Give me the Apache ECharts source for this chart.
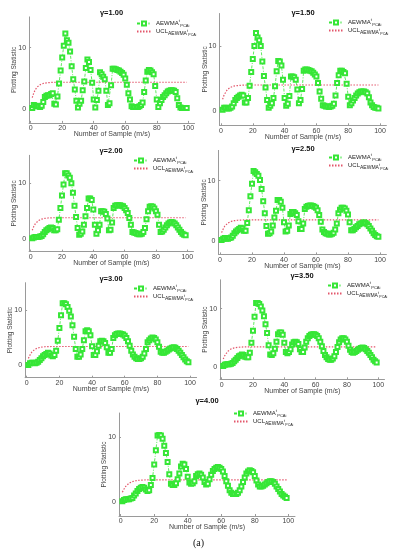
<!DOCTYPE html>
<html><head><meta charset="utf-8">
<script src="https://cdn.jsdelivr.net/npm/echarts@6/dist/echarts.min.js"></script>
<style>html,body{margin:0;padding:0;background:#fff}#c{width:399px;height:550px}</style>
</head><body><div id="c"></div>
<script>
const samples = [1,2,3,4,5,6,7,8,9,10,11,12,13,14,15,16,17,18,19,20,21,22,23,24,25,26,27,28,29,30,31,32,33,34,35,36,37,38,39,40,41,42,43,44,45,46,47,48,49,50,51,52,53,54,55,56,57,58,59,60,61,62,63,64,65,66,67,68,69,70,71,72,73,74,75,76,77,78,79,80,81,82,83,84,85,86,87,88,89,90,91,92,93,94,95,96,97,98,99];
const xTicks = [0,20,40,60,80,100];
const yTicks = [0,10];
const gammaLabels = ['γ=1.00','γ=1.50','γ=2.00','γ=2.50','γ=3.00','γ=3.50','γ=4.00'];

const aewmaG100 = [
0.2,0.7,0.6,0.5,0.5,0.4,0.6,1.2,2.0,2.2,
2.3,2.3,2.5,2.6,0.9,0.8,2.1,4.2,6.3,8.4,
10.3,12.3,11.2,10.8,9.4,7.0,4.9,3.2,1.4,0.3,
0.9,1.4,3.1,4.5,6.7,8.1,7.7,6.4,4.3,1.6,
0.3,1.5,3.0,6.0,5.7,5.3,4.9,3.0,0.7,1.0,
3.9,6.6,6.6,6.5,6.4,6.3,6.1,5.9,5.6,5.0,
4.0,2.6,1.6,0.5,0.4,0.4,0.4,0.4,0.5,0.7,
1.1,2.8,4.7,6.1,6.4,6.3,6.0,5.7,3.8,1.6,
0.4,1.0,1.5,2.0,2.3,2.6,2.9,3.0,3.1,3.1,
3.0,2.8,1.8,0.7,0.3,0.2,0.2,0.2,0.2];
const aewmaG150 = [
0.2,0.5,0.5,0.4,0.4,0.5,0.7,1.2,1.7,2.0,
2.2,2.4,2.5,2.4,1.3,1.3,2.0,3.9,6.0,8.0,
10.0,12.0,11.3,10.9,10.0,7.6,5.4,3.6,1.7,0.5,
0.8,1.2,2.0,3.8,6.1,7.7,7.6,7.0,4.8,2.0,
0.8,1.1,2.3,5.3,5.3,5.2,4.8,3.3,1.2,1.7,
3.4,6.2,6.4,6.4,6.3,6.2,6.1,5.9,5.6,5.3,
4.3,3.0,1.9,0.9,0.8,0.7,0.7,0.6,0.7,0.8,
1.1,2.4,4.3,5.5,6.2,6.2,6.0,5.8,4.2,2.2,
0.9,1.2,1.6,2.0,2.4,2.7,2.9,3.0,3.0,3.0,
2.9,2.7,2.1,1.3,0.9,0.6,0.5,0.5,0.4];
const aewmaG200 = [
0.2,0.3,0.4,0.4,0.4,0.5,0.6,0.9,1.3,1.6,
1.8,2.0,2.1,2.0,1.6,1.6,1.8,3.5,5.6,7.8,
9.8,11.8,11.8,11.4,11.0,10.0,8.3,6.0,4.0,2.0,
0.8,1.0,1.4,2.6,4.1,5.6,7.3,7.3,7.0,5.3,
2.6,1.0,1.6,2.6,5.0,5.0,4.9,4.5,3.7,1.6,
1.7,3.0,5.6,6.0,6.1,6.1,6.1,6.0,5.9,5.6,
5.2,4.7,3.8,2.6,1.3,1.2,1.1,1.0,0.9,0.9,
1.0,1.3,2.0,3.6,5.0,5.8,5.9,5.8,5.5,5.0,
4.4,2.6,1.3,1.4,1.7,2.1,2.5,2.8,3.0,3.1,
3.0,2.8,2.5,2.1,1.7,1.3,1.0,0.8,0.7];
const aewmaG250 = [
0.2,0.4,0.5,0.4,0.4,0.5,0.6,0.9,1.3,1.6,
1.8,2.0,2.2,2.1,1.7,1.7,3.0,5.1,7.4,9.5,
11.6,11.4,11.1,10.8,10.1,8.6,6.6,4.6,2.5,1.2,
1.3,1.6,2.6,3.9,5.0,6.8,6.8,6.5,5.5,3.1,
1.6,1.7,2.6,4.5,4.8,4.8,4.6,4.3,3.3,2.0,
2.0,2.9,5.3,5.7,5.8,5.9,5.9,5.8,5.7,5.5,
5.1,4.3,3.2,1.9,1.5,1.3,1.2,1.1,1.1,1.2,
1.4,1.9,2.9,4.6,5.2,5.5,5.5,5.4,5.0,4.4,
3.1,1.8,1.8,2.0,2.3,2.5,2.8,2.9,3.0,3.1,
3.0,2.8,2.5,2.1,1.7,1.3,1.0,0.8,0.7];
const aewmaG300 = [
0.1,0.4,0.5,0.5,0.4,0.5,0.7,1.0,1.3,1.7,
1.9,2.1,2.3,2.2,1.8,1.7,1.9,2.7,4.5,6.8,
9.1,11.3,11.3,11.1,10.6,9.9,8.9,7.3,5.2,3.0,
1.6,1.6,2.0,3.0,4.6,6.2,6.4,6.2,5.5,3.5,
1.9,1.9,2.6,3.6,4.4,4.5,4.4,4.1,3.3,2.3,
2.3,3.0,5.0,5.5,5.7,5.8,5.8,5.7,5.6,5.4,
5.0,4.4,3.6,2.7,2.0,1.6,1.3,1.2,1.2,1.3,
1.6,2.2,3.0,4.2,4.6,4.9,5.1,5.0,4.7,4.2,
3.4,2.5,2.3,2.3,2.5,2.7,2.9,3.1,3.2,3.3,
3.2,3.0,2.7,2.3,1.9,1.5,1.1,0.8,0.6];
const aewmaG350 = [
0.1,0.3,0.4,0.4,0.4,0.5,0.6,0.9,1.2,1.5,
1.8,1.9,2.1,2.0,1.7,1.6,1.6,2.4,4.1,6.2,
8.6,11.0,11.0,10.8,10.4,9.7,8.7,7.3,5.8,3.7,
2.1,2.0,2.3,3.1,4.3,5.6,5.9,5.9,5.5,4.1,
2.5,2.3,2.5,3.0,3.8,4.2,4.3,4.2,3.9,3.0,
2.5,2.5,3.3,4.3,4.9,5.3,5.5,5.6,5.6,5.5,
5.3,4.9,4.3,3.5,2.7,2.0,1.6,1.3,1.2,1.2,
1.4,1.8,2.5,3.4,4.2,4.7,4.9,4.9,4.7,4.3,
3.6,2.9,2.5,2.4,2.5,2.7,2.9,3.1,3.2,3.3,
3.2,3.0,2.7,2.4,2.0,1.6,1.2,0.9,0.7];
const aewmaG400 = [
0.1,0.3,0.4,0.4,0.4,0.5,0.6,1.0,1.3,1.7,
2.0,2.2,2.3,2.2,1.9,1.7,1.8,2.6,3.7,5.8,
8.0,10.3,10.4,10.3,9.8,8.7,7.6,6.2,4.3,2.8,
2.6,2.6,2.9,3.5,4.4,5.5,5.9,5.8,5.1,3.9,
3.0,2.8,2.9,3.2,4.0,4.3,4.4,4.2,3.8,3.1,
2.7,2.8,3.5,4.2,4.8,5.1,5.3,5.4,5.3,5.1,
4.7,4.0,3.2,2.5,1.8,1.4,1.2,1.2,1.2,1.4,
1.8,2.4,3.1,3.8,4.4,4.7,4.9,4.8,4.6,4.0,
3.3,2.7,2.4,2.4,2.5,2.7,2.9,3.1,3.2,3.2,
3.1,2.8,2.4,2.0,1.6,1.2,1.0,0.8,0.6];

const uclG100 = [
1.9,2.7,3.2,3.6,3.85,4.0,4.1,4.2,4.25,4.3,
4.33,4.35,4.37,4.38,4.39,4.4,4.4,4.4,4.4,4.4,
4.4,4.4,4.4,4.4,4.4,4.4,4.4,4.4,4.4,4.4,
4.4,4.4,4.4,4.4,4.4,4.4,4.4,4.4,4.4,4.4,
4.4,4.4,4.4,4.4,4.4,4.4,4.4,4.4,4.4,4.4,
4.4,4.4,4.4,4.4,4.4,4.4,4.4,4.4,4.4,4.4,
4.4,4.4,4.4,4.4,4.4,4.4,4.4,4.4,4.4,4.4,
4.4,4.4,4.4,4.4,4.4,4.4,4.4,4.4,4.4,4.4,
4.4,4.4,4.4,4.4,4.4,4.4,4.4,4.4,4.4,4.4,
4.4,4.4,4.4,4.4,4.4,4.4,4.4,4.4,4.4];
const uclG150 = [
1.8,2.5,2.9,3.3,3.5,3.65,3.75,3.82,3.87,3.9,
3.93,3.95,3.97,3.98,3.99,4.0,4.0,4.0,4.0,4.0,
4.0,4.0,4.0,4.0,4.0,4.0,4.0,4.0,4.0,4.0,
4.0,4.0,4.0,4.0,4.0,4.0,4.0,4.0,4.0,4.0,
4.0,4.0,4.0,4.0,4.0,4.0,4.0,4.0,4.0,4.0,
4.0,4.0,4.0,4.0,4.0,4.0,4.0,4.0,4.0,4.0,
4.0,4.0,4.0,4.0,4.0,4.0,4.0,4.0,4.0,4.0,
4.0,4.0,4.0,4.0,4.0,4.0,4.0,4.0,4.0,4.0,
4.0,4.0,4.0,4.0,4.0,4.0,4.0,4.0,4.0,4.0,
4.0,4.0,4.0,4.0,4.0,4.0,4.0,4.0,4.0];
const uclG200 = [
1.6,2.3,2.8,3.15,3.35,3.5,3.6,3.68,3.73,3.77,
3.8,3.82,3.83,3.84,3.85,3.85,3.85,3.85,3.85,3.85,
3.85,3.85,3.85,3.85,3.85,3.85,3.85,3.85,3.85,3.85,
3.85,3.85,3.85,3.85,3.85,3.85,3.85,3.85,3.85,3.85,
3.85,3.85,3.85,3.85,3.85,3.85,3.85,3.85,3.85,3.85,
3.85,3.85,3.85,3.85,3.85,3.85,3.85,3.85,3.85,3.85,
3.85,3.85,3.85,3.85,3.85,3.85,3.85,3.85,3.85,3.85,
3.85,3.85,3.85,3.85,3.85,3.85,3.85,3.85,3.85,3.85,
3.85,3.85,3.85,3.85,3.85,3.85,3.85,3.85,3.85,3.85,
3.85,3.85,3.85,3.85,3.85,3.85,3.85,3.85,3.85];
const uclG250 = [
1.4,2.0,2.5,2.8,3.0,3.15,3.25,3.32,3.38,3.42,
3.45,3.47,3.48,3.49,3.5,3.5,3.5,3.5,3.5,3.5,
3.5,3.5,3.5,3.5,3.5,3.5,3.5,3.5,3.5,3.5,
3.5,3.5,3.5,3.5,3.5,3.5,3.5,3.5,3.5,3.5,
3.5,3.5,3.5,3.5,3.5,3.5,3.5,3.5,3.5,3.5,
3.5,3.5,3.5,3.5,3.5,3.5,3.5,3.5,3.5,3.5,
3.5,3.5,3.5,3.5,3.5,3.5,3.5,3.5,3.5,3.5,
3.5,3.5,3.5,3.5,3.5,3.5,3.5,3.5,3.5,3.5,
3.5,3.5,3.5,3.5,3.5,3.5,3.5,3.5,3.5,3.5,
3.5,3.5,3.5,3.5,3.5,3.5,3.5,3.5,3.5];
const uclG300 = [
1.3,1.9,2.4,2.7,2.95,3.1,3.2,3.28,3.33,3.37,
3.4,3.42,3.43,3.44,3.45,3.45,3.45,3.45,3.45,3.45,
3.45,3.45,3.45,3.45,3.45,3.45,3.45,3.45,3.45,3.45,
3.45,3.45,3.45,3.45,3.45,3.45,3.45,3.45,3.45,3.45,
3.45,3.45,3.45,3.45,3.45,3.45,3.45,3.45,3.45,3.45,
3.45,3.45,3.45,3.45,3.45,3.45,3.45,3.45,3.45,3.45,
3.45,3.45,3.45,3.45,3.45,3.45,3.45,3.45,3.45,3.45,
3.45,3.45,3.45,3.45,3.45,3.45,3.45,3.45,3.45,3.45,
3.45,3.45,3.45,3.45,3.45,3.45,3.45,3.45,3.45,3.45,
3.45,3.45,3.45,3.45,3.45,3.45,3.45,3.45,3.45];
const uclG350 = [
1.3,1.9,2.3,2.65,2.9,3.05,3.15,3.23,3.28,3.32,
3.35,3.37,3.38,3.39,3.4,3.4,3.4,3.4,3.4,3.4,
3.4,3.4,3.4,3.4,3.4,3.4,3.4,3.4,3.4,3.4,
3.4,3.4,3.4,3.4,3.4,3.4,3.4,3.4,3.4,3.4,
3.4,3.4,3.4,3.4,3.4,3.4,3.4,3.4,3.4,3.4,
3.4,3.4,3.4,3.4,3.4,3.4,3.4,3.4,3.4,3.4,
3.4,3.4,3.4,3.4,3.4,3.4,3.4,3.4,3.4,3.4,
3.4,3.4,3.4,3.4,3.4,3.4,3.4,3.4,3.4,3.4,
3.4,3.4,3.4,3.4,3.4,3.4,3.4,3.4,3.4,3.4,
3.4,3.4,3.4,3.4,3.4,3.4,3.4,3.4,3.4];
const uclG400 = [
1.5,2.0,2.4,2.7,2.9,3.05,3.15,3.22,3.28,3.32,
3.35,3.37,3.38,3.39,3.4,3.4,3.4,3.4,3.4,3.4,
3.4,3.4,3.4,3.4,3.4,3.4,3.4,3.4,3.4,3.4,
3.4,3.4,3.4,3.4,3.4,3.4,3.4,3.4,3.4,3.4,
3.4,3.4,3.4,3.4,3.4,3.4,3.4,3.4,3.4,3.4,
3.4,3.4,3.4,3.4,3.4,3.4,3.4,3.4,3.4,3.4,
3.4,3.4,3.4,3.4,3.4,3.4,3.4,3.4,3.4,3.4,
3.4,3.4,3.4,3.4,3.4,3.4,3.4,3.4,3.4,3.4,
3.4,3.4,3.4,3.4,3.4,3.4,3.4,3.4,3.4,3.4,
3.4,3.4,3.4,3.4,3.4,3.4,3.4,3.4,3.4];

const aewmaSets = [aewmaG100, aewmaG150, aewmaG200, aewmaG250, aewmaG300, aewmaG350, aewmaG400];
const uclSets = [uclG100, uclG150, uclG200, uclG250, uclG300, uclG350, uclG400];

// panel layout (pixels) and per-panel value range
const layouts = [
  {l:29.1, t:16.9, w:165.5, h:106.0, ymax:15,   tx:111.5, ty:9,   lx:136, ly:19},
  {l:219.4,t:13.5, w:167.0, h:111.8, ymax:15,   tx:303,   ty:9,   lx:328, ly:18},
  {l:29.1, t:155.3,w:164.4, h:96.3,  ymax:15,   tx:111,   ty:147, lx:133, ly:156},
  {l:218.4,t:150.4,w:168.0, h:104.0, ymax:15,   tx:303,   ty:145, lx:328, ly:153},
  {l:25.1, t:282.7,w:171.5, h:95.0,  ymax:15,   tx:111,   ty:275, lx:133, ly:284},
  {l:220.1,t:279.8,w:164.4, h:99.5,  ymax:15,   tx:302,   ty:272, lx:327, ly:281},
  {l:119.0,t:413.0,w:176.0, h:103.0, ymax:13.8, tx:207,   ty:397, lx:233, ly:409}
];
const XMIN = -1, XMAX = 104, YMIN = -2.2;
const FONT = 'Liberation Sans';
const axisGrey = '#9a9a9a';
const green = '#36e636';
const red = '#e3566b';

const richStyles = {
  sup: {fontSize: 4, width: 1.6, padding: [0,0,5,0], fontFamily: FONT, color: '#222'},
  sub: {fontSize: 4, padding: [4,0,0,0], fontFamily: FONT, color: '#222'},
  subBig: {fontSize: 5, padding: [4,0,0,0], fontFamily: FONT, color: '#222'},
  sup2: {fontSize: 3.5, width: 1.4, padding: [0,0,1,0], fontFamily: FONT, color: '#222'},
  sub2: {fontSize: 3.5, padding: [7,0,0,0], fontFamily: FONT, color: '#222'}
};

const option = {
  animation: false,
  backgroundColor: '#fff',
  title: layouts.map((g, i) => ({
    text: gammaLabels[i], left: g.tx, top: g.ty, textAlign: 'center', padding: 0,
    textStyle: {fontSize: 7.5, fontWeight: 'bold', color: '#111', fontFamily: FONT}
  })),
  legend: layouts.map((g, i) => ({
    data: ['AEWMA', {name: 'UCL', itemStyle: {opacity: 0}}], orient: 'vertical', left: g.lx, top: g.ly,
    itemWidth: 14, itemHeight: 5, itemGap: 1, padding: 0,
    selectedMode: false,
    formatter: n => n === 'AEWMA' ? 'AEWMA{sup|t}{sub|PCAi}' : 'UCL{subBig|AEWMA}{sup2|t}{sub2|PCAi}',
    textStyle: {fontSize: 6, color: '#222', fontFamily: FONT, rich: richStyles}
  })),
  grid: layouts.map(g => ({left: g.l, top: g.t, width: g.w, height: g.h})),
  xAxis: layouts.map((g, i) => ({
    type: 'value', gridIndex: i, min: XMIN, max: XMAX,
    name: 'Number of Sample (m/s)', nameLocation: 'middle', nameGap: 8, nameMoveOverlap: false,
    nameTextStyle: {fontSize: 7, color: '#444', fontFamily: FONT},
    axisLine: {show: true, onZero: false, lineStyle: {color: axisGrey, width: 1}},
    axisTick: {show: true, inside: true, length: 2, customValues: xTicks, lineStyle: {color: axisGrey}},
    axisLabel: {customValues: xTicks, fontSize: 7, color: '#444', margin: 2, fontFamily: FONT},
    splitLine: {show: false}
  })),
  yAxis: layouts.map((g, i) => ({
    type: 'value', gridIndex: i, min: YMIN, max: g.ymax,
    name: 'Plotting Statistic', nameLocation: 'middle', nameGap: 11, nameRotate: 90, nameMoveOverlap: false,
    nameTextStyle: {fontSize: 6.5, color: '#444', fontFamily: FONT},
    axisLine: {show: true, onZero: false, lineStyle: {color: axisGrey, width: 1}},
    axisTick: {show: true, inside: true, length: 2, customValues: yTicks, lineStyle: {color: axisGrey}},
    axisLabel: {customValues: yTicks, fontSize: 7, color: '#444', margin: 3, fontFamily: FONT},
    splitLine: {show: false}
  })),
  series: [],
  graphic: [{
    type: 'text', left: 193, top: 538,
    style: {text: '(a)', fontSize: 10, fontFamily: 'Liberation Serif', fill: '#111'}
  }]
};

layouts.forEach((g, i) => {
  option.series.push({
    name: 'AEWMA', type: 'line', xAxisIndex: i, yAxisIndex: i,
    data: samples.map((x, k) => [x, aewmaSets[i][k]]),
    symbol: 'emptyRect', symbolSize: 4, color: green,
    lineStyle: {color: green, width: 0.8, type: [3, 1.5, 1, 1.5]},
    itemStyle: {color: green, borderColor: green, borderWidth: 0.75},
    z: 3
  });
  option.series.push({
    name: 'UCL', type: 'line', xAxisIndex: i, yAxisIndex: i,
    data: samples.map((x, k) => [x, uclSets[i][k]]),
    symbol: 'none', showSymbol: false, color: red,
    lineStyle: {color: red, width: 1.2, type: [1.5, 1.5]},
    z: 2
  });
});

const chart = echarts.init(document.getElementById('c'), null, {renderer: 'canvas'});
chart.setOption(option);
</script>
</body></html>
